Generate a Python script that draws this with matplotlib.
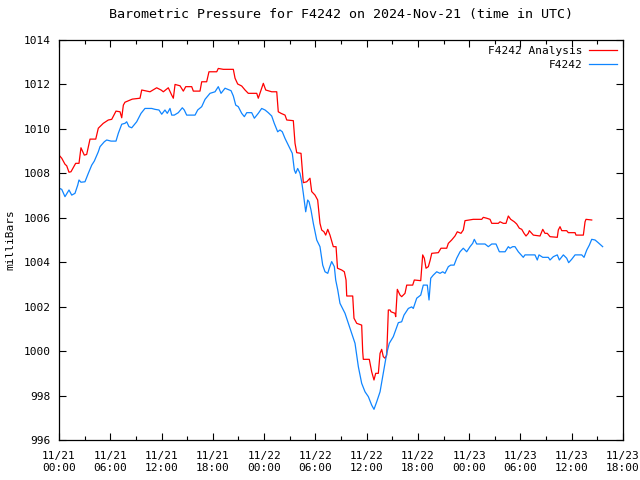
import numpy as np
import pandas as pd
import matplotlib
matplotlib.use("Agg")
import matplotlib.pyplot as plt
import matplotlib.dates as mdates

plt.rcParams["font.family"] = ["DejaVu Sans Mono"]
plt.rcParams["font.size"] = 8

START = pd.Timestamp("2024-11-21 00:00")

# hours since 11/21 00:00 UTC, pressure in mbar
analysis_h = [0.0, 0.32, 0.70, 0.90, 1.17, 1.40, 1.95, 2.34, 2.57, 2.96, 3.24, 3.63, 4.30, 4.60,
              5.18, 5.77, 6.17, 6.67, 7.14, 7.34, 7.53, 7.72, 8.58, 9.48, 9.68, 10.65, 11.43,
              11.94, 12.21, 12.79, 13.19, 13.38, 13.58, 14.16, 14.55, 14.83, 15.53, 15.72, 16.50,
              16.70, 17.28, 17.55, 18.46, 18.64, 19.23, 20.40, 20.60, 20.91, 21.38, 21.77, 22.15,
              23.14, 23.32, 23.64, 23.91, 24.19, 24.89, 25.48, 25.66, 25.98, 26.45, 26.65, 27.42,
              27.62, 27.82, 28.32, 28.47, 28.59, 28.99, 29.37, 29.57, 29.96, 30.27, 30.54, 30.74,
              31.01, 31.21, 31.45, 31.71, 32.10, 32.42, 32.59, 33.08, 33.39, 33.59, 33.67, 34.37,
              34.52, 34.84, 35.42, 35.54, 35.61, 36.31, 36.59, 36.86, 37.06, 37.37, 37.57, 37.76,
              37.95, 38.15, 38.35, 38.54, 38.74, 38.85, 39.32, 39.40, 39.59, 39.91, 40.10, 40.49,
              40.69, 41.39, 41.58, 42.33, 42.56, 42.75, 42.95, 43.22, 43.42, 43.62, 44.39, 44.70,
              45.37, 45.56, 45.95, 46.34, 46.61, 47.04, 47.31, 47.51, 48.48, 49.47, 49.65, 50.05,
              50.44, 50.64, 51.41, 51.61, 51.99, 52.31, 52.58, 52.86, 53.28, 53.56, 53.87, 54.15,
              54.42, 54.65, 54.92, 55.04, 55.51, 56.29, 56.61, 56.87, 57.14, 57.46, 58.31, 58.43,
              58.63, 58.83, 59.41, 59.60, 60.39, 60.50, 61.36, 61.56, 61.67, 62.34]
analysis_p = [1008.82, 1008.68, 1008.41, 1008.34, 1008.05, 1008.07, 1008.45, 1008.45, 1009.15,
              1008.82, 1008.85, 1009.54, 1009.54, 1010.03, 1010.25, 1010.40, 1010.43, 1010.80,
              1010.77, 1010.50, 1011.07, 1011.20, 1011.34, 1011.38, 1011.75, 1011.67, 1011.85,
              1011.75, 1011.67, 1011.85, 1011.52, 1011.38, 1012.00, 1011.94, 1011.70, 1011.90,
              1011.90, 1011.70, 1011.70, 1012.12, 1012.12, 1012.57, 1012.57, 1012.72, 1012.68,
              1012.68, 1012.28, 1012.02, 1011.93, 1011.75, 1011.60, 1011.60, 1011.38, 1011.75,
              1012.05, 1011.75, 1011.67, 1011.67, 1010.77, 1010.70, 1010.62, 1010.40, 1010.37,
              1009.35, 1008.93, 1008.90, 1008.15, 1007.58, 1007.62, 1007.78, 1007.18, 1007.02,
              1006.80, 1005.75, 1005.45, 1005.37, 1005.22, 1005.48, 1005.22, 1004.70, 1004.70,
              1003.73, 1003.65, 1003.57, 1003.20, 1002.48, 1002.48, 1001.48, 1001.25, 1001.17,
              999.97, 999.63, 999.63, 999.07, 998.70, 999.00, 999.00, 999.90, 1000.08, 999.75,
              999.68, 999.82, 1001.85, 1001.85, 1001.77, 1001.70, 1001.55, 1002.78, 1002.52,
              1002.45, 1002.60, 1002.97, 1002.97, 1003.20, 1003.17, 1004.33, 1004.18, 1003.73,
              1003.80, 1004.07, 1004.40, 1004.43, 1004.63, 1004.63, 1004.85, 1005.00, 1005.18,
              1005.37, 1005.30, 1005.45, 1005.87, 1005.93, 1005.93, 1006.02, 1005.98, 1005.93,
              1005.75, 1005.75, 1005.82, 1005.75, 1005.75, 1006.08, 1005.93, 1005.82, 1005.72,
              1005.53, 1005.48, 1005.30, 1005.18, 1005.30, 1005.42, 1005.22, 1005.18, 1005.48,
              1005.30, 1005.30, 1005.15, 1005.12, 1005.45, 1005.60, 1005.42, 1005.42, 1005.33,
              1005.33, 1005.22, 1005.22, 1005.82, 1005.93, 1005.90]

station_h = [0.0, 0.32, 0.70, 1.17, 1.49, 1.87, 2.19, 2.34, 2.57, 3.04, 3.43, 3.83, 4.13, 4.60,
             4.80, 5.30, 5.58, 6.09, 6.67, 6.94, 7.34, 7.72, 7.92, 8.19, 8.51, 9.09, 9.60, 10.06,
             10.85, 11.23, 11.70, 12.02, 12.40, 12.67, 12.99, 13.19, 13.49, 13.96, 14.43, 14.66,
             14.94, 15.92, 16.23, 16.70, 17.09, 17.67, 18.26, 18.64, 18.96, 19.43, 20.13, 20.40,
             20.68, 20.98, 21.38, 21.69, 21.97, 22.55, 22.86, 23.32, 23.72, 24.11, 24.49, 24.89,
             25.19, 25.59, 25.86, 26.13, 26.45, 26.83, 27.30, 27.54, 27.70, 27.93, 28.20, 28.40,
             28.59, 28.87, 29.10, 29.26, 29.49, 29.76, 30.16, 30.54, 30.86, 31.13, 31.45, 31.63,
             31.91, 32.22, 32.38, 32.62, 32.88, 33.47, 33.86, 34.25, 34.64, 35.03, 35.42, 35.81,
             36.20, 36.59, 36.86, 37.18, 37.57, 37.88, 38.15, 38.35, 38.65, 39.12, 39.71, 40.10,
             40.37, 40.88, 41.27, 41.46, 41.86, 42.33, 42.63, 43.10, 43.30, 43.50, 43.80, 44.20,
             44.59, 44.90, 45.17, 45.56, 45.84, 46.23, 46.54, 46.93, 47.31, 47.71, 48.10, 48.41,
             48.60, 48.88, 49.85, 50.24, 50.64, 51.14, 51.53, 52.20, 52.58, 52.78, 53.09, 53.36,
             53.75, 54.33, 54.53, 55.70, 55.97, 56.17, 56.61, 57.26, 57.46, 57.85, 58.31, 58.55,
             59.02, 59.41, 59.64, 59.99, 60.39, 61.17, 61.44, 61.76, 62.06, 62.34, 62.73, 63.10,
             63.62]
station_p = [1007.33, 1007.28, 1006.95, 1007.25, 1007.02, 1007.10, 1007.47, 1007.70, 1007.60,
             1007.62, 1008.00, 1008.37, 1008.55, 1008.97, 1009.20, 1009.42, 1009.50, 1009.45,
             1009.45, 1009.80, 1010.21, 1010.25, 1010.32, 1010.10, 1010.05, 1010.32, 1010.70,
             1010.92, 1010.92, 1010.88, 1010.85, 1010.66, 1010.85, 1010.70, 1010.92, 1010.62,
             1010.62, 1010.73, 1010.95, 1010.85, 1010.62, 1010.62, 1010.85, 1011.00, 1011.33,
             1011.60, 1011.67, 1011.90, 1011.60, 1011.83, 1011.72, 1011.48, 1011.07, 1011.00,
             1010.70, 1010.55, 1010.73, 1010.73, 1010.48, 1010.70, 1010.92, 1010.85, 1010.73,
             1010.58, 1010.25, 1009.87, 1009.95, 1009.87, 1009.57, 1009.27, 1008.90, 1008.15,
             1008.00, 1008.22, 1008.00, 1007.62, 1007.10, 1006.27, 1006.80, 1006.72, 1006.35,
             1005.75, 1005.00, 1004.70, 1003.87, 1003.57, 1003.50, 1003.73, 1004.03, 1003.80,
             1003.20, 1002.75, 1002.15, 1001.70, 1001.25, 1000.80, 1000.35, 999.30, 998.55,
             998.17, 997.95, 997.57, 997.38, 997.72, 998.17, 998.85, 999.45, 999.90, 1000.35,
             1000.65, 1001.28, 1001.32, 1001.62, 1001.92, 1001.99, 1001.92, 1002.38, 1002.52,
             1002.97, 1002.97, 1002.30, 1003.28, 1003.42, 1003.57, 1003.50, 1003.57, 1003.50,
             1003.80, 1003.87, 1003.87, 1004.18, 1004.47, 1004.63, 1004.47, 1004.70, 1004.85,
             1005.03, 1004.82, 1004.82, 1004.70, 1004.82, 1004.82, 1004.47, 1004.47, 1004.70,
             1004.63, 1004.70, 1004.70, 1004.47, 1004.22, 1004.33, 1004.33, 1004.10, 1004.33,
             1004.22, 1004.22, 1004.10, 1004.25, 1004.33, 1004.10, 1004.33, 1004.18, 1003.98,
             1004.13, 1004.33, 1004.33, 1004.22, 1004.55, 1004.77, 1005.03, 1005.00, 1004.88,
             1004.70]


def to_time(hours):
    return START + pd.to_timedelta(np.asarray(hours), unit="h")


fig = plt.figure(figsize=(6.4, 4.8), dpi=100)
ax = fig.add_axes([59 / 640, 40 / 480, 564 / 640, 400 / 480])

ax.plot(to_time(analysis_h), analysis_p, color="#ff0000", lw=0.9, label="F4242 Analysis")
ax.plot(to_time(station_h), station_p, color="#0f85ff", lw=0.9, label="F4242")

ax.set_xlim(START, START + pd.Timedelta(hours=66))
ax.set_ylim(996, 1014)
ax.set_yticks(np.arange(996, 1015, 2))

ax.xaxis.set_major_locator(mdates.HourLocator(byhour=[0, 6, 12, 18]))
ax.xaxis.set_major_formatter(mdates.DateFormatter("%m/%d\n%H:%M"))
ax.xaxis.set_minor_locator(mdates.HourLocator(byhour=[3, 9, 15, 21]))

ax.tick_params(which="both", direction="in", top=True, right=True, colors="black")
ax.tick_params(which="major", length=5, width=0.8, pad=6)
ax.tick_params(axis="x", which="major", pad=8)
ax.tick_params(which="minor", length=3, width=0.8)
for s in ax.spines.values():
    s.set_linewidth(0.9)

ax.set_ylabel("milliBars", labelpad=6)
ax.set_title("Barometric Pressure for F4242 on 2024-Nov-21 (time in UTC)", pad=16)

ax.legend(loc="upper right", frameon=False, markerfirst=False, handlelength=2.5,
          borderaxespad=0.15, labelspacing=0.35, handletextpad=0.6)

fig.savefig("out.png", dpi=100)
